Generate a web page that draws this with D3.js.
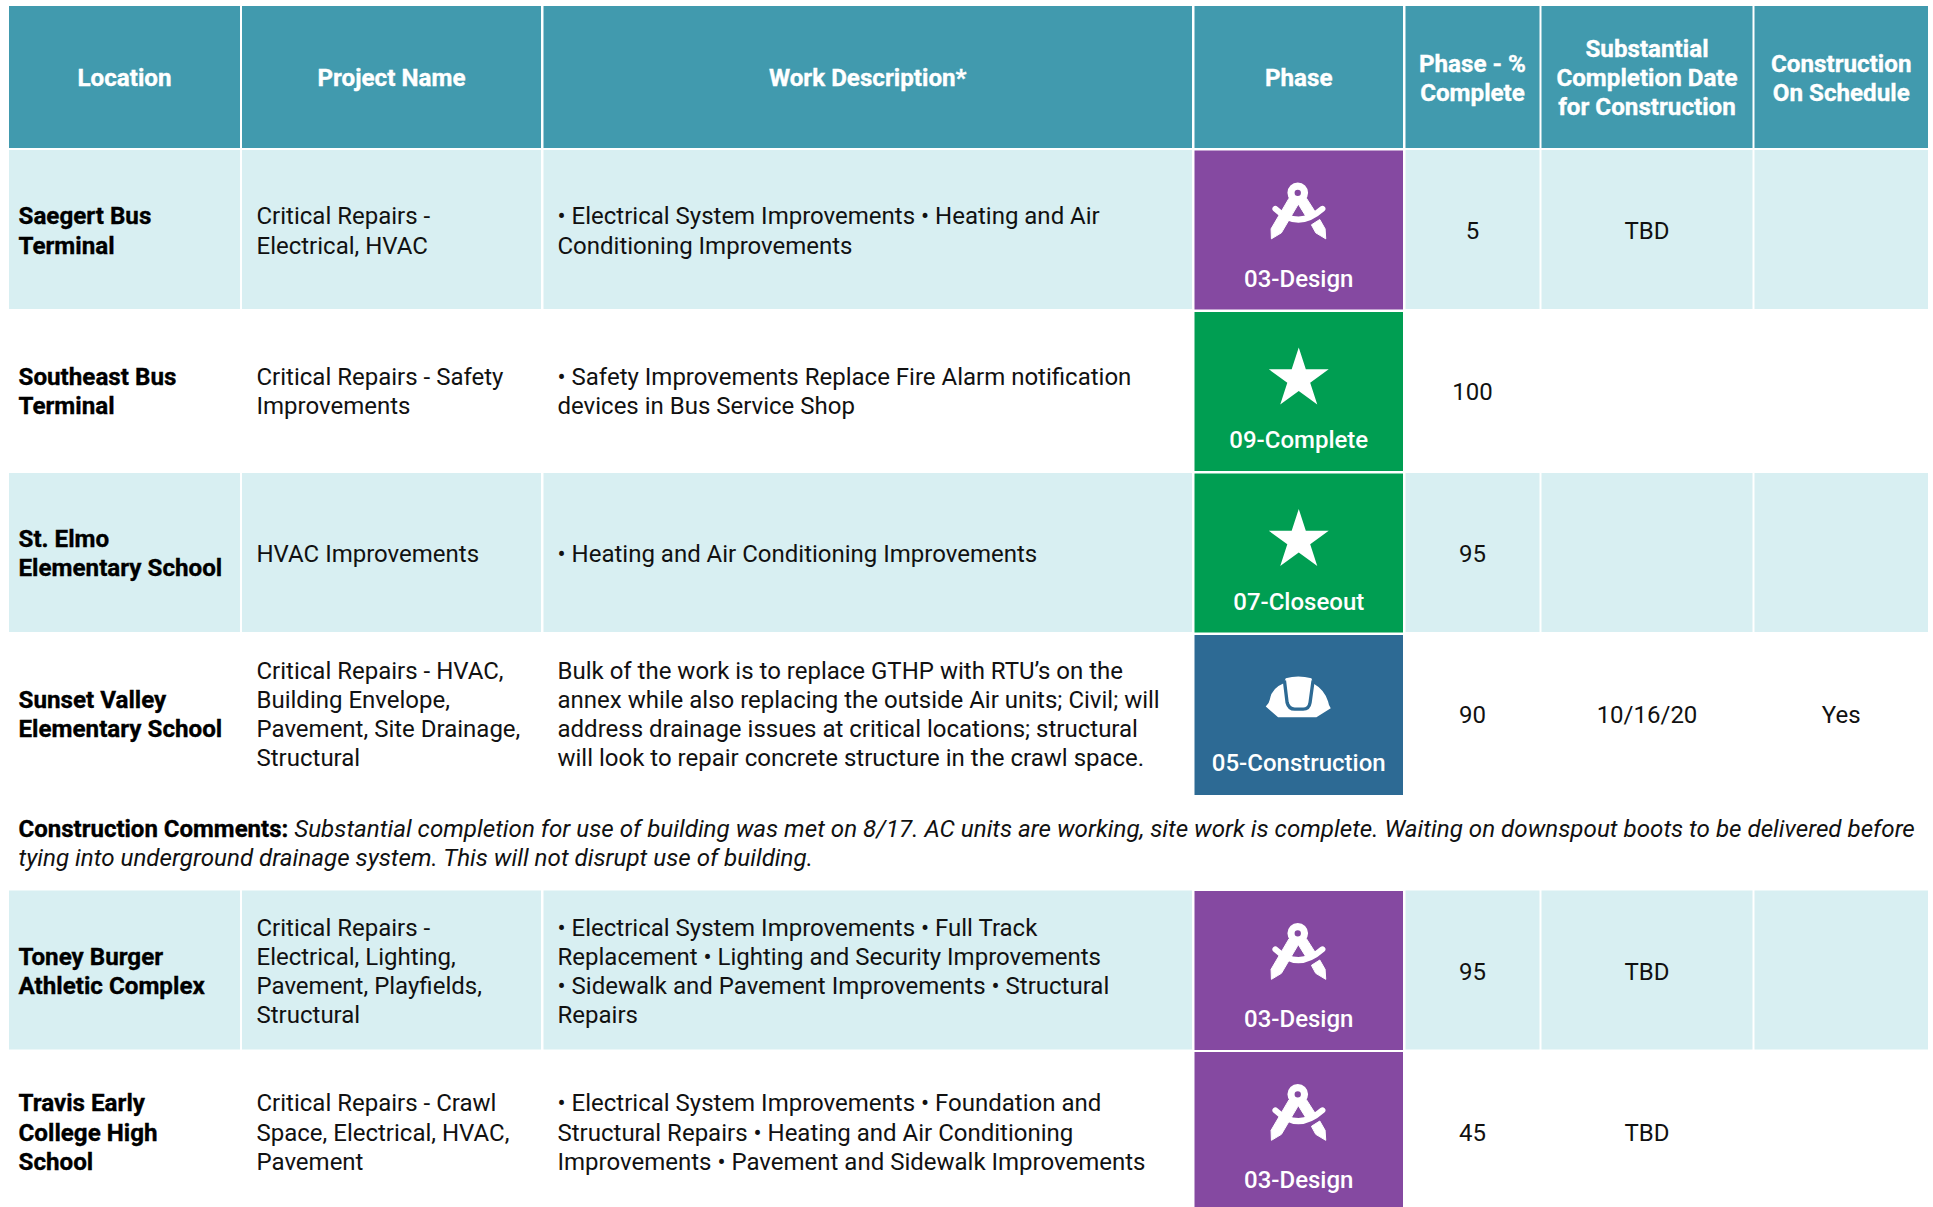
<!DOCTYPE html>
<html>
  <head>
    <title>Project status</title>
    <style>
      body {
        margin: 0;
        background: #fff;
      }
      svg {
        display: block;
      }
      text {
        font-family: Roboto, sans-serif;
        font-size: 24px;
      }
    </style>
  </head>
  <body>
    <script src="https://cdn.jsdelivr.net/npm/d3@7"></script>
    <script>
      const columns = ['location', 'project', 'work', 'phase', 'percent', 'date', 'onSchedule'];
      const headers = [
        ['Location'],
        ['Project Name'],
        ['Work Description*'],
        ['Phase'],
        ['Phase - %', 'Complete'],
        ['Substantial', 'Completion Date', 'for Construction'],
        ['Construction', 'On Schedule'],
      ];

      const locations = [
        ['Saegert Bus', 'Terminal'],
        ['Southeast Bus', 'Terminal'],
        ['St. Elmo', 'Elementary School'],
        ['Sunset Valley', 'Elementary School'],
        ['Toney Burger', 'Athletic Complex'],
        ['Travis Early', 'College High', 'School'],
      ];
      const projects = [
        ['Critical Repairs -', 'Electrical, HVAC'],
        ['Critical Repairs - Safety', 'Improvements'],
        ['HVAC Improvements'],
        ['Critical Repairs - HVAC,', 'Building Envelope,', 'Pavement, Site Drainage,', 'Structural'],
        ['Critical Repairs -', 'Electrical, Lighting,', 'Pavement, Playfields,', 'Structural'],
        ['Critical Repairs - Crawl', 'Space, Electrical, HVAC,', 'Pavement'],
      ];
      const descriptions = [
        ['• Electrical System Improvements • Heating and Air', 'Conditioning Improvements'],
        ['• Safety Improvements Replace Fire Alarm notification', 'devices in Bus Service Shop'],
        ['• Heating and Air Conditioning Improvements'],
        [
          'Bulk of the work is to replace GTHP with RTU’s on the',
          'annex while also replacing the outside Air units; Civil; will',
          'address drainage issues at critical locations; structural',
          'will look to repair concrete structure in the crawl space.',
        ],
        [
          '• Electrical System Improvements • Full Track',
          'Replacement • Lighting and Security Improvements',
          '• Sidewalk and Pavement Improvements • Structural',
          'Repairs',
        ],
        [
          '• Electrical System Improvements • Foundation and',
          'Structural Repairs • Heating and Air Conditioning',
          'Improvements • Pavement and Sidewalk Improvements',
        ],
      ];
      const phases = ['03-Design', '09-Complete', '07-Closeout', '05-Construction', '03-Design', '03-Design'];
      const percents = [5, 100, 95, 90, 95, 45];
      const dates = ['TBD', '', '', '10/16/20', 'TBD', 'TBD'];
      const onSchedule = ['', '', '', 'Yes', '', ''];
      const commentLabel = 'Construction Comments:';
      const commentLines = [
        'Substantial completion for use of building was met on 8/17. AC units are working, site work is complete. Waiting on downspout boots to be delivered before',
        'tying into underground drainage system. This will not disrupt use of building.',
      ];

      const width = 1933;
      const height = 1207;
      const lineHeight = 29.2;
      const rowHeight = 159;

      const colLeft = d3
        .scaleOrdinal()
        .domain(columns)
        .range([9, 242, 543.5, 1194.5, 1405.5, 1541.5, 1754.5]);
      const colRight = d3
        .scaleOrdinal()
        .domain(columns)
        .range([240, 541, 1192, 1403, 1539.5, 1752.5, 1928]);
      const rowTop = d3
        .scaleOrdinal()
        .domain(d3.range(6))
        .range([150.5, 312, 473.5, 635, 891, 1052]);
      // middle of the text in each row, slightly off the cell middle in the picture
      const rowMiddle = d3
        .scaleOrdinal()
        .domain(d3.range(6))
        .range([230.5, 391.3, 553, 714, 971, 1132]);
      const phaseColor = d3
        .scaleOrdinal()
        .domain(['design', 'done', 'construction'])
        .range(['#8549a1', '#009e52', '#2d6a94']);

      const phaseKind = (p) =>
        p.includes('Design') ? 'design' : p.includes('Construction') ? 'construction' : 'done';

      const rows = d3.range(6).map((i) => ({
        i,
        location: locations[i],
        project: projects[i],
        work: descriptions[i],
        phase: phases[i],
        percent: [String(percents[i])],
        date: dates[i] ? [dates[i]] : [],
        onSchedule: onSchedule[i] ? [onSchedule[i]] : [],
      }));

      const svg = d3
        .select('body')
        .append('svg')
        .attr('width', width)
        .attr('height', height);

      // multi line text, vertically centred on cy
      function block(g, lines, x, cy, anchor, weight, fill) {
        const t = g
          .append('text')
          .attr('text-anchor', anchor)
          .attr('font-weight', weight)
          .attr('fill', fill);
        // the bold text in the picture is a bit wider and heavier than plain Roboto Bold
        if (weight === 700) {
          t.style('font-size', '24.2px').attr('stroke', fill).attr('stroke-width', 0.35);
        }
        t.selectAll('tspan')
          .data(lines)
          .join('tspan')
          .attr('x', x)
          .attr('y', (d, i) => cy + 8.5 + (i - (lines.length - 1) / 2) * lineHeight)
          .text((d) => d);
      }

      // header row
      const head = svg.append('g');
      columns.forEach((c, i) => {
        head
          .append('rect')
          .attr('x', colLeft(c))
          .attr('y', 6)
          .attr('width', colRight(c) - colLeft(c))
          .attr('height', 142)
          .attr('fill', '#419aae');
        block(head, headers[i], (colLeft(c) + colRight(c)) / 2, 77.6, 'middle', 700, '#fff');
      });

      // icons are drawn in 3x pixels, origin at the top left of the icon box
      function drawCompass(g) {
        g.append('path')
          .attr('d', 'M112,80 L140,68 L170,115 L140,125 Z')
          .attr('fill', '#fff')
          .attr('stroke', '#fff')
          .attr('stroke-width', 3);
        g.append('path')
          .attr('d', 'M88,68 L34,160 L35,190 L65,172 L118,82 Z')
          .attr('fill', '#fff')
          .attr('stroke', '#fff')
          .attr('stroke-width', 3);
        g.append('path')
          .attr('d', 'M155,148 L180,132 L196,160 L198,190 L168,172 Z')
          .attr('fill', '#fff')
          .attr('stroke', '#fff')
          .attr('stroke-width', 3);
        g.append('path')
          .attr('d', 'M47,100 Q115,165 188,100')
          .attr('stroke', '#fff')
          .attr('stroke-width', 18)
          .attr('stroke-linecap', 'round')
          .attr('fill', 'none');
        g.append('path')
          .attr('d', 'M83,52 a31,31 0 1,0 62,0 a31,31 0 1,0 -62,0 Z M104.5,52 a9.5,9.5 0 1,0 19,0 a9.5,9.5 0 1,0 -19,0 Z')
          .attr('fill', '#fff')
          .attr('fill-rule', 'evenodd');
      }

      function drawHelmet(g) {
        g.append('path')
          .attr(
            'd',
            'M18,120 Q28,112 30,100 Q35,65 72,50 L78,35 Q115,25 155,35 L160,50 Q195,70 205,105 Q207,118 213,125 L170,152 L55,152 Z'
          )
          .attr('fill', '#fff');
        g.append('path')
          .attr('d', 'M74,42 L82,108 Q87,128 105,128 L130,128 Q148,128 151,108 L160,42')
          .attr('stroke', phaseColor('construction'))
          .attr('stroke-width', 10)
          .attr('fill', 'none');
      }

      // body rows
      const rowG = svg
        .selectAll('g.row')
        .data(rows)
        .join('g')
        .attr('class', 'row');

      rowG.each(function (d) {
        const g = d3.select(this);
        const top = rowTop(d.i);
        const cy = rowMiddle(d.i);
        const striped = [0, 2, 4].includes(d.i);

        columns.forEach((c) => {
          if (c === 'phase' || !striped) return;
          g.append('rect')
            .attr('x', colLeft(c))
            .attr('y', top - 0.5)
            .attr('width', colRight(c) - colLeft(c))
            .attr('height', rowHeight)
            .attr('fill', '#d8eff2');
        });

        block(g, d.location, 18.5, cy, 'start', 700, '#000');
        block(g, d.project, 256.5, cy, 'start', 400, '#111');
        block(g, d.work, 557.5, cy, 'start', 400, '#111');
        ['percent', 'date', 'onSchedule'].forEach((c) => {
          block(g, d[c], (colLeft(c) + colRight(c)) / 2, cy, 'middle', 400, '#111');
        });

        // phase cell
        const kind = phaseKind(d.phase);
        const px = colLeft('phase');
        const pw = colRight('phase') - px;
        const mid = px + pw / 2;
        g.append('rect')
          .attr('x', px)
          .attr('y', top)
          .attr('width', pw)
          .attr('height', d.i === 3 ? rowHeight + 1 : rowHeight)
          .attr('fill', phaseColor(kind));
        g.append('text')
          .attr('x', mid)
          .attr('y', top + 136)
          .attr('text-anchor', 'middle')
          .attr('font-weight', 500)
          .attr('fill', '#fff')
          .text(d.phase);

        if (kind === 'done') {
          g.append('path')
            .attr('d', d3.symbol(d3.symbolStar, 1114)())
            .attr('transform', `translate(${mid},${top + 67})`)
            .attr('fill', '#fff');
        } else if (kind === 'design') {
          const icon = g
            .append('g')
            .attr('transform', `translate(${mid},${top + 25}) scale(${1 / 3}) translate(-117,0)`);
          drawCompass(icon);
        } else {
          const icon = g
            .append('g')
            .attr('transform', `translate(${mid},${top + 31.5}) scale(${1 / 3}) translate(-117,0)`);
          drawHelmet(icon);
        }
      });

      // comment line under Sunset Valley
      const comment = svg
        .append('g')
        .append('text')
        .attr('fill', '#111');
      comment
        .append('tspan')
        .attr('x', 18.5)
        .attr('y', 837)
        .attr('font-weight', 700)
        .attr('fill', '#000')
        .attr('stroke', '#000')
        .attr('stroke-width', 0.35)
        .text(commentLabel + ' ');
      comment
        .append('tspan')
        .attr('font-style', 'italic')
        .style('font-size', '24.2px')
        .text(commentLines[0]);
      comment
        .append('tspan')
        .attr('x', 18.5)
        .attr('y', 866)
        .attr('font-style', 'italic')
        .style('font-size', '24.2px')
        .text(commentLines[1]);
    </script>
  </body>
</html>
